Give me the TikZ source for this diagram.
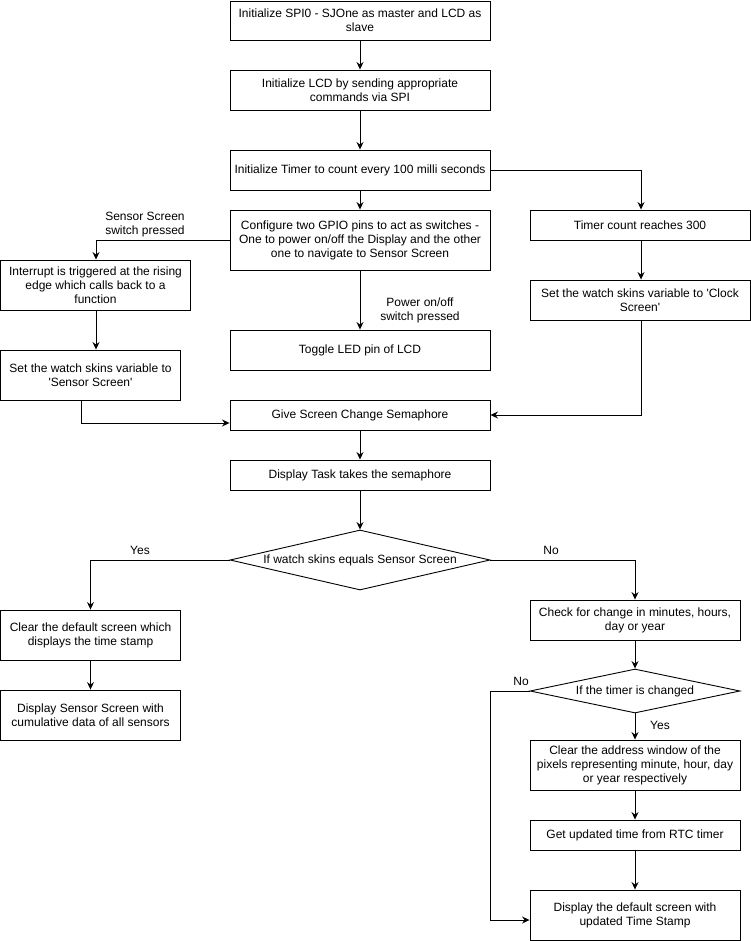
\documentclass[tikz,border=0pt]{standalone}
\usepackage{fontspec}
\setmainfont{Liberation Sans}
\usetikzlibrary{arrows.meta,shapes.geometric}
\newcommand{\sq}{\textquotesingle}
\begin{document}
\begin{tikzpicture}[x=1pt,y=-1pt,
  every node/.style={font=\fontsize{12}{14}\selectfont, inner sep=0pt},
  box/.style={draw, line width=0.9pt, rectangle, align=center},
  dia/.style={draw, line width=0.9pt, diamond, shape aspect=2, align=center},
  lbl/.style={align=center},
  conn/.style={line width=0.9pt, -{Stealth[length=7.5pt,width=7pt,inset=2.5pt]}}]
\useasboundingbox (0,0) rectangle (751,941);
\fill[white] (0,0) rectangle (751,941);
% top column
\node[box, minimum width=260, minimum height=39] (spi) at (360,20.5) {Initialize SPI0 - SJOne as master and LCD as\\slave};
\node[box, minimum width=260, minimum height=40] (lcd) at (360,90) {Initialize LCD by sending appropriate\\commands via SPI};
\node[box, minimum width=260, minimum height=40] (tim) at (360,170) {Initialize Timer to count every 100 milli seconds};
\node[box, minimum width=260, minimum height=60] (gpio) at (360,240) {Configure two GPIO pins to act as switches -\\One to power on/off the Display and the other\\one to navigate to Sensor Screen};
\node[box, minimum width=220, minimum height=30] (tcnt) at (640,225) {Timer count reaches 300};
\node[box, minimum width=220, minimum height=40] (clock) at (640,300) {Set the watch skins variable to \sq Clock\\Screen\sq};
\node[box, minimum width=190, minimum height=50] (intr) at (95.5,285) {Interrupt is triggered at the rising\\edge which calls back to a\\function};
\node[box, minimum width=180, minimum height=50] (sens) at (90.5,375) {Set the watch skins variable to\\\sq Sensor Screen\sq};
\node[box, minimum width=260, minimum height=40] (tog) at (360,350) {Toggle LED pin of LCD};
\node[box, minimum width=260, minimum height=30] (sem) at (360,415) {Give Screen Change Semaphore};
\node[box, minimum width=260, minimum height=30] (take) at (360,475) {Display Task takes the semaphore};
\node[dia, minimum width=260, minimum height=60] (d1) at (360,560) {};
\node at (360,560) {If watch skins equals Sensor Screen};
\node[box, minimum width=180, minimum height=50] (clr) at (90.5,635) {Clear the default screen which\\displays the time stamp};
\node[box, minimum width=180, minimum height=50] (dss) at (90.5,715) {Display Sensor Screen with\\cumulative data of all sensors};
\node[box, minimum width=210, minimum height=40] (chk) at (635,620) {Check for change in minutes, hours,\\day or year};
\node[dia, minimum width=210, minimum height=44] (d2) at (635,691) {};
\node at (635,691) {If the timer is changed};
\node[box, minimum width=210, minimum height=50] (addr) at (635,765) {Clear the address window of the\\pixels representing minute, hour, day\\or year respectively};
\node[box, minimum width=210, minimum height=30] (rtc) at (635,835) {Get updated time from RTC timer};
\node[box, minimum width=210, minimum height=50] (dds) at (635,915) {Display the default screen with\\updated Time Stamp};
% coordinates
\coordinate (c1) at (641,170);
\coordinate (c2) at (96,240);
\coordinate (c3) at (81,423);
\coordinate (c4) at (641,415);
\coordinate (c5) at (90.5,560);
\coordinate (c6) at (635,560);
\coordinate (c7) at (490,691);
\coordinate (c8) at (490,920);
% connectors
\draw[conn] (spi) -- (lcd);
\draw[conn] (lcd) -- (tim);
\draw[conn] (tim) -- (gpio);
\draw[conn] (tim.east) -- (c1) -- (tcnt.north -| c1);
\draw[conn] (tcnt.south -| c1) -- (clock.north -| c1);
\draw[conn] (clock.south -| c1) -- (c4) -- (sem.east);
\draw[conn] (gpio.west) -- (c2) -- (intr.north -| c2);
\draw[conn] (intr.south -| c2) -- (sens.north -| c2);
\draw[conn] (sens.south -| c3) -- (c3) -- (sem.west |- c3);
\draw[conn] (gpio) -- (tog);
\draw[conn] (sem) -- (take);
\draw[conn] (take) -- (d1.north);
\draw[conn] (d1.west) -- (c5) -- (clr.north);
\draw[conn] (clr) -- (dss);
\draw[conn] (d1.east) -- (c6) -- (chk.north);
\draw[conn] (chk) -- (d2.north);
\draw[conn] (d2.south) -- (addr);
\draw[conn] (addr) -- (rtc);
\draw[conn] (rtc) -- (dds);
\draw[conn] (d2.west) -- (c7) -- (c8) -- (dds.west |- c8);
% labels
\node[lbl] (l1) at (145,225) {Sensor Screen\\switch pressed};
\node[lbl] (l2) at (420,310) {Power on/off\\switch pressed};
\node[lbl] (l3) at (140,550) {Yes};
\node[lbl] (l4) at (551,550) {No};
\node[lbl] (l5) at (521,681) {No};
\node[lbl] (l6) at (660,725) {Yes};
\end{tikzpicture}
\end{document}
